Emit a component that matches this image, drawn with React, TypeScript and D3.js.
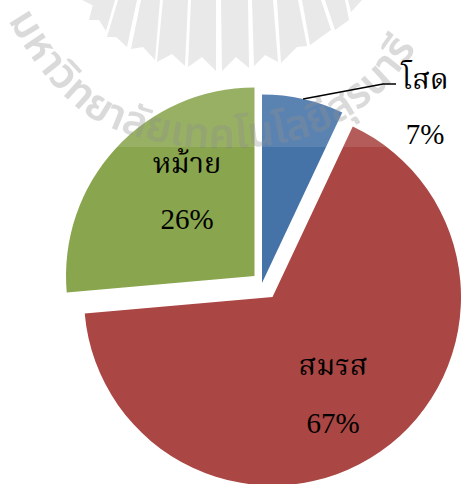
import React from "react";
import * as d3 from "d3";

const categories = ["โสด", "สมรส", "หม้าย"];
const values = [7, 66.6, 26.4];
const percentLabels = ["7%", "67%", "26%"];
const colors = ["#4572A7", "#AA4643", "#89A54E"];
const watermarkText = "มหาวิทยาลัยเทคโนโลยีสุรนารี";

// Decorative emblem (watermark), not data
const emblemRays: [number, number][][] = [
  [[82, 0], [100, 0], [94, 6]],
  [[94, 0], [115, 0], [106, 31], [99, 20], [89, 20]],
  [[118, 0], [137, 0], [127, 47], [116, 37], [107, 37]],
  [[141, 0], [160, 0], [155, 60], [143, 47], [131, 49]],
  [[163, 0], [188, 0], [185, 66], [172, 54], [157, 62]],
  [[191, 0], [216, 0], [216, 71], [202, 57], [188, 67]],
  [[221, 0], [248, 0], [249, 68], [236, 57], [222, 71]],
  [[252, 0], [273, 0], [278, 62], [265, 55], [254, 66]],
  [[277, 0], [298, 0], [307, 46], [297, 47], [281, 63]],
  [[302, 0], [321, 0], [331, 30], [310, 45]],
  [[325, 0], [345, 0], [349, 20], [335, 30]],
  [[348, 0], [362, 0], [351, 12]],
];
// Decorative baseline the watermark text follows
const watermarkCurve: [number, number][] = [
  [8, 20],
  [45, 75],
  [95, 120],
  [165, 143],
  [240, 148],
  [320, 132],
  [385, 88],
  [430, 28],
];

const W = 461;
const H = 484;
const R = 188.5;
const SERIF = "'Liberation Serif','Noto Serif Thai','Noto Sans Thai',serif";

const pieGen = d3.pie<number>().sort(null)(values);
const arcGen = d3.arc<d3.PieArcDatum<number>>().innerRadius(0).outerRadius(R);
const wmPath = d3.line().curve(d3.curveCatmullRom)(watermarkCurve) as string;

// Exploded slice apex positions
const apex = [
  { x: 262, y: 283 },
  { x: 272.5, y: 297 },
  { x: 254.5, y: 276 },
];
const labelPos = [
  { x: 425, nameY: 89, pctY: 144 },
  { x: 333, nameY: 375, pctY: 433 },
  { x: 187, nameY: 173, pctY: 229 },
];

export default function App() {
  const leadAngle = 0.22;
  const leadStart = [
    apex[0].x + R * Math.sin(leadAngle),
    apex[0].y - R * Math.cos(leadAngle),
  ];
  const leader = d3.line()([
    leadStart as [number, number],
    [383, 84],
    [396, 84],
  ]) as string;

  return (
    <svg
      width={W}
      height={H}
      viewBox={`0 0 ${W} ${H}`}
      style={{ position: "absolute", left: 0, top: 0, background: "#fff" }}
    >
      <defs>
        <path id="wm" d={wmPath} fill="none" />
        <filter id="soft" x="-5%" y="-5%" width="110%" height="110%">
          <feGaussianBlur stdDeviation="0.5" />
        </filter>
      </defs>

      <g filter="url(#soft)">
        {emblemRays.map((r, i) => (
          <polygon key={i} points={r.map((p) => p.join(",")).join(" ")} fill="#e6e6e6" />
        ))}
      </g>

      {pieGen.map((d, i) => (
        <path
          key={categories[i]}
          d={arcGen(d) as string}
          transform={`translate(${apex[i].x},${apex[i].y})`}
          fill={colors[i]}
        />
      ))}

      <text
        fontFamily="'Noto Sans Thai','Noto Sans',sans-serif"
        fontWeight="600"
        fontSize={42}
        fill="#808080"
        opacity={0.32}
        filter="url(#soft)"
      >
        <textPath href="#wm" startOffset="0">
          {watermarkText}
        </textPath>
      </text>

      <rect x={0} y={0} width={W} height={147} fill="#fff" opacity={0.12} />

      <path d={leader} fill="none" stroke="#000" strokeWidth={1.4} />

      {categories.map((c, i) => (
        <g key={c} fontFamily={SERIF} fontSize={29} fill="#000" textAnchor="middle">
          <text x={labelPos[i].x} y={labelPos[i].nameY}>{c}</text>
          <text x={labelPos[i].x} y={labelPos[i].pctY}>{percentLabels[i]}</text>
        </g>
      ))}
    </svg>
  );
}
